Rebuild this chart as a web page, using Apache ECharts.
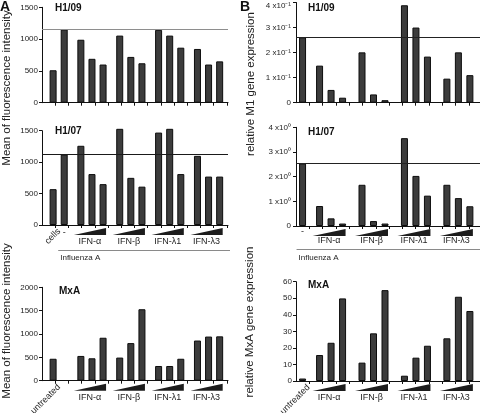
<!DOCTYPE html>
<html><head><meta charset="utf-8">
<script src="https://cdn.jsdelivr.net/npm/echarts@6/dist/echarts.min.js"></script>
<style>html,body{margin:0;padding:0;background:#fff}#c{width:480px;height:413px}</style>
</head><body><div id="c"></div>
<script>
// ---------- data ----------
const groupNames = ['IFN-\u03b1', 'IFN-\u03b2', 'IFN-\u03bb1', 'IFN-\u03bb3'];
const ctrlA = ['cells', '-'];
const ctrlB = ['-'];
const ctrlMxA = ['untreated'];
const infectionLabel = 'Influenza A';

// A: mean of fluorescence intensity
const aH109 = [510, 1150, 990, 690, 600, 1055, 720, 620, 1145, 1055, 865, 845, 600, 650];
const aH109Ref = 1148;
const aH107 = [570, 1120, 1260, 810, 650, 1530, 750, 610, 1470, 1530, 810, 1100, 770, 770];
const aH107Ref = 1125;
const aMxA = [470, 530, 480, 920, 495, 805, 1530, 315, 315, 470, 860, 945, 950];

// B: relative gene expression
const bH109 = [0.261, 0.148, 0.051, 0.020, 0.201, 0.033, 0.010, 0.389, 0.300, 0.184, 0.096, 0.201, 0.110];
const bH109Ref = 0.261;
const bH107 = [2.53, 0.81, 0.31, 0.10, 1.67, 0.20, 0.10, 3.56, 2.03, 1.23, 1.67, 1.13, 0.80];
const bH107Ref = 2.53;
const bMxA = [1.5, 15.7, 23.1, 49.9, 11.1, 28.8, 54.9, 3.2, 14.1, 21.3, 25.8, 50.9, 42.3];

// ---------- layout ----------
const FONT = 'Liberation Sans, Arial, Helvetica, sans-serif';
const TXT = '#1e1e1e';
const layoutA = { unitPx: 11.1, max: 16.75, ctrl: [1, 2], groupStart: 3.5, groupStep: 3.5, tickPx: 13.2, ticks: 14 };
const layoutB = { unitPx: 11.5, max: 16, ctrl: [0.57], groupStart: 2.05, groupStep: 3.69, tickPx: 13.3, ticks: 13 };

function xPositions(layout, nCtrl) {
  const p = layout.ctrl.slice(0, nCtrl);
  for (let g = 0; g < groupNames.length; g++)
    for (let k = 0; k < 3; k++) p.push(layout.groupStart + g * layout.groupStep + k);
  return p;
}
function tickValues(layout) {
  const t = [];
  for (let k = 1; k <= layout.ticks; k++) t.push(k * layout.tickPx / layout.unitPx);
  return t;
}

const panels = [
  { grid: { left: 42, top: 7.3, width: 186, height: 95.4 }, layout: layoutA, nCtrl: 2, values: aH109,
    ymax: 1500, yint: 500, ref: aH109Ref, refColor: '#8e8e8e', annot: null },
  { grid: { left: 42, top: 130.7, width: 186, height: 94.3 }, layout: layoutA, nCtrl: 2, values: aH107,
    ymax: 1500, yint: 500, ref: aH107Ref, refColor: '#1a1a1a',
    annot: { ctrl: ctrlA, labelDy: 16.5, dashDy: 8, infl: true, lineDy: 25.5, inflDy: 32.5 } },
  { grid: { left: 42, top: 287.3, width: 186, height: 93.4 }, layout: layoutA, nCtrl: 1, values: aMxA,
    ymax: 2000, yint: 500, ref: null,
    annot: { ctrl: ctrlMxA, labelDy: 17, infl: false } },
  { grid: { left: 296, top: 2.5, width: 184, height: 100.2 }, layout: layoutB, nCtrl: 1, values: bH109,
    ymax: 0.4, yint: 0.1, ref: bH109Ref, refColor: '#222', annot: null, fmt: 'em1' },
  { grid: { left: 296, top: 127.3, width: 184, height: 98.7 }, layout: layoutB, nCtrl: 1, values: bH107,
    ymax: 4, yint: 1, ref: bH107Ref, refColor: '#222', fmt: 'e0',
    annot: { ctrl: ctrlB, labelDy: 15, dashDy: 6, infl: true, lineDy: 23.5, inflDy: 31.5 } },
  { grid: { left: 296, top: 281.7, width: 184, height: 99.3 }, layout: layoutB, nCtrl: 1, values: bMxA,
    ymax: 60, yint: 10, ref: null,
    annot: { ctrl: ctrlMxA, labelDy: 16.5, infl: false } }
];

function makeRender(p, xs) {
  return function (params, api) {
    if (params.dataIndex !== 0) return;
    const a = p.annot;
    const y0 = api.coord([0, 0])[1];
    const px = x => api.coord([x, 0])[0];
    const children = [];
    a.ctrl.forEach((name, j) => {
      const x = px(xs[j]);
      if (name === '-') {
        children.push({ type: 'text', x: x, y: y0 + a.dashDy,
          style: { text: name, align: 'center', verticalAlign: 'middle', fontSize: 9, fontFamily: FONT, fill: TXT } });
      } else {
        children.push({ type: 'text', x: x + 6, y: y0 + 5, rotation: Math.PI / 4,
          style: { text: name, align: 'right', verticalAlign: 'middle', fontSize: 9, fontFamily: FONT, fill: TXT } });
      }
    });
    groupNames.forEach((name, g) => {
      const first = px(xs[p.nCtrl + g * 3]);
      const last = px(xs[p.nCtrl + g * 3 + 2]);
      const xl = first - 7, xr = last + 3;
      children.push({ type: 'polygon', shape: { points: [[xl, y0 + 10], [xr, y0 + 10], [xr, y0 + 3]] },
        style: { fill: '#1c1c1c' } });
      children.push({ type: 'text', x: (xl + xr) / 2, y: y0 + a.labelDy,
        style: { text: name, align: 'center', verticalAlign: 'middle', fontSize: 9, fontFamily: FONT, fill: TXT } });
    });
    if (a.infl) {
      const xd = px(xs[p.nCtrl - 1]);
      const xEnd = api.coord([p.layout.max, 0])[0] + 2;
      children.push({ type: 'line', shape: { x1: xd - 6, y1: y0 + a.lineDy, x2: xEnd, y2: y0 + a.lineDy },
        style: { stroke: '#8a8a8a', lineWidth: 1.2 } });
      children.push({ type: 'text', x: xd - 4, y: y0 + a.inflDy,
        style: { text: infectionLabel, align: 'left', verticalAlign: 'middle', fontSize: 8, fontFamily: FONT, fill: TXT } });
    }
    return { type: 'group', children };
  };
}

const grids = [], xAxes = [], yAxes = [], series = [];
panels.forEach((p, i) => {
  const xs = xPositions(p.layout, p.nCtrl);
  grids.push(Object.assign({ containLabel: false }, p.grid));
  xAxes.push({ type: 'value', gridIndex: i, min: 0, max: p.layout.max,
    axisLine: { show: true, onZero: false, lineStyle: { color: '#111', width: 1 } },
    axisTick: { show: true, length: 3, customValues: tickValues(p.layout), lineStyle: { color: '#111' } },
    axisLabel: { show: false }, splitLine: { show: false } });
  let formatter = v => String(v);
  let rich;
  if (p.fmt === 'em1') {
    formatter = v => {
      const n = Math.round(v * 10);
      if (n === 0) return '0';
      if (n === 4) return '{t|4 x10\u207b\u00b9}';
      return n + ' x10\u207b\u00b9';
    };
    rich = { t: { padding: [7, 0, 0, 0], fontSize: 8, fontFamily: FONT, color: TXT } };
  } else if (p.fmt === 'e0') {
    formatter = v => v === 0 ? '0' : v + ' x10\u2070';
  }
  yAxes.push({ type: 'value', gridIndex: i, min: 0, max: p.ymax, interval: p.yint,
    axisLine: { show: true, lineStyle: { color: '#111', width: 1 } },
    axisTick: { show: true, length: 3, lineStyle: { color: '#111' } },
    axisLabel: { fontSize: 8, fontFamily: FONT, color: TXT, margin: p.fmt ? 5 : 4, formatter, rich },
    splitLine: { show: false } });
  const s = { type: 'bar', xAxisIndex: i, yAxisIndex: i, barWidth: 7, clip: false, silent: true,
    data: p.values.map((v, j) => [xs[j], v]),
    itemStyle: { color: '#3c3c3c', borderColor: '#0d0d0d', borderWidth: 1 } };
  if (p.ref != null) {
    s.markLine = { symbol: 'none', silent: true, label: { show: false },
      lineStyle: { color: p.refColor, width: 1, type: 'solid' }, data: [{ yAxis: p.ref }] };
  }
  series.push(s);
  if (p.annot) {
    series.push({ type: 'custom', xAxisIndex: i, yAxisIndex: i, silent: true, clip: false,
      data: [[0, 0]], renderItem: makeRender(p, xs) });
  }
});

const title = (text, x, y, size, bold) => ({ type: 'text', x, y,
  style: { text, fontSize: size, fontWeight: bold ? 'bold' : 'normal', fontFamily: FONT, fill: '#111',
    textAlign: 'left', textVerticalAlign: 'middle', align: 'left', verticalAlign: 'middle' } });
const vtitle = (text, x, y) => ({ type: 'text', x, y, rotation: Math.PI / 2,
  style: { text, fontSize: 11.5, fontFamily: FONT, fill: '#222',
    textAlign: 'center', textVerticalAlign: 'middle', align: 'center', verticalAlign: 'middle' } });

const chart = echarts.init(document.getElementById('c'), null, { renderer: 'canvas' });
chart.setOption({
  animation: false,
  grid: grids, xAxis: xAxes, yAxis: yAxes, series,
  graphic: [
    title('A', 0, 7, 14, true), title('B', 240, 7, 14, true),
    title('H1/09', 55, 8.5, 10, true), title('H1/07', 55, 131, 10, true), title('MxA', 59, 291, 10, true),
    title('H1/09', 308, 8, 10, true), title('H1/07', 308, 132, 10, true), title('MxA', 308, 285, 10, true),
    vtitle('Mean of fluorescence intensity', 7, 88), vtitle('Mean of fluorescence intensity', 7, 321),
    vtitle('relative M1 gene expression', 251, 84), vtitle('relative MxA gene expression', 250, 322)
  ]
});
</script></body></html>
